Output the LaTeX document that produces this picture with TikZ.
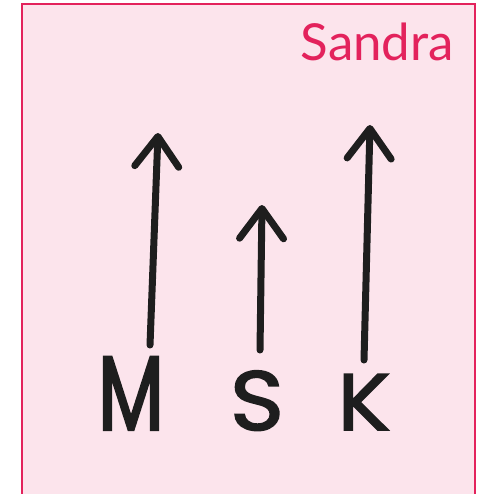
\documentclass[tikz,border=0pt]{standalone}
\usepackage{fontspec}
\usetikzlibrary{arrows.meta}
\newfontfamily\titlefont{Lato}
\newfontfamily\handfont[FakeStretch=0.72,FakeBold=2]{Poppins}
\newfontfamily\handwide[FakeStretch=1.1,FakeBold=2]{Poppins}
\definecolor{crimson}{HTML}{E3225C}
\definecolor{softpink}{HTML}{FCE4EC}
\definecolor{pen}{HTML}{1E1E1E}

\begin{document}
\begin{tikzpicture}[
  x=1pt,y=-1pt,
  frame/.style={draw=crimson,fill=softpink,line width=2pt},
  title/.style={text=crimson,font=\titlefont\fontsize{51}{51}\selectfont,anchor=base east,inner sep=0pt},
  letter/.style={text=pen,font=\handwide\fontsize{84}{84}\selectfont,anchor=base,inner sep=0pt},
  penarrow/.style={draw=pen,line width=7pt,line cap=round,
    -{Straight Barb[length=30pt,width=44pt,line width=7pt,round]}}
]
\useasboundingbox (0,0) rectangle (480,494);
\fill[white] (0,0) rectangle (480,494);
\begin{scope}
\clip (0,0) rectangle (480,494);
\draw[frame] (22,4) rectangle (475,510);
\end{scope}

\node[title] (title) at (454,61) {Sandra};

\node[letter,font=\handfont\fontsize{106}{106}\selectfont] (M) at (131,430) {M};
\node[letter] (S) at (257,430) {S};
\node[letter,font=\handwide\fontsize{80}{80}\selectfont] (K) at (364,430) {K};

% arrow ends
\coordinate (footM) at (150,345);
\coordinate (tipM) at (158,133);
\coordinate (footS) at (260,350);
\coordinate (tipS) at (262,205);
\coordinate (footK) at (364,360);
\coordinate (tipK) at (370,125);

\foreach \n in {M,S,K}
  \draw[penarrow] (foot\n) -- (tip\n);
\end{tikzpicture}
\end{document}
